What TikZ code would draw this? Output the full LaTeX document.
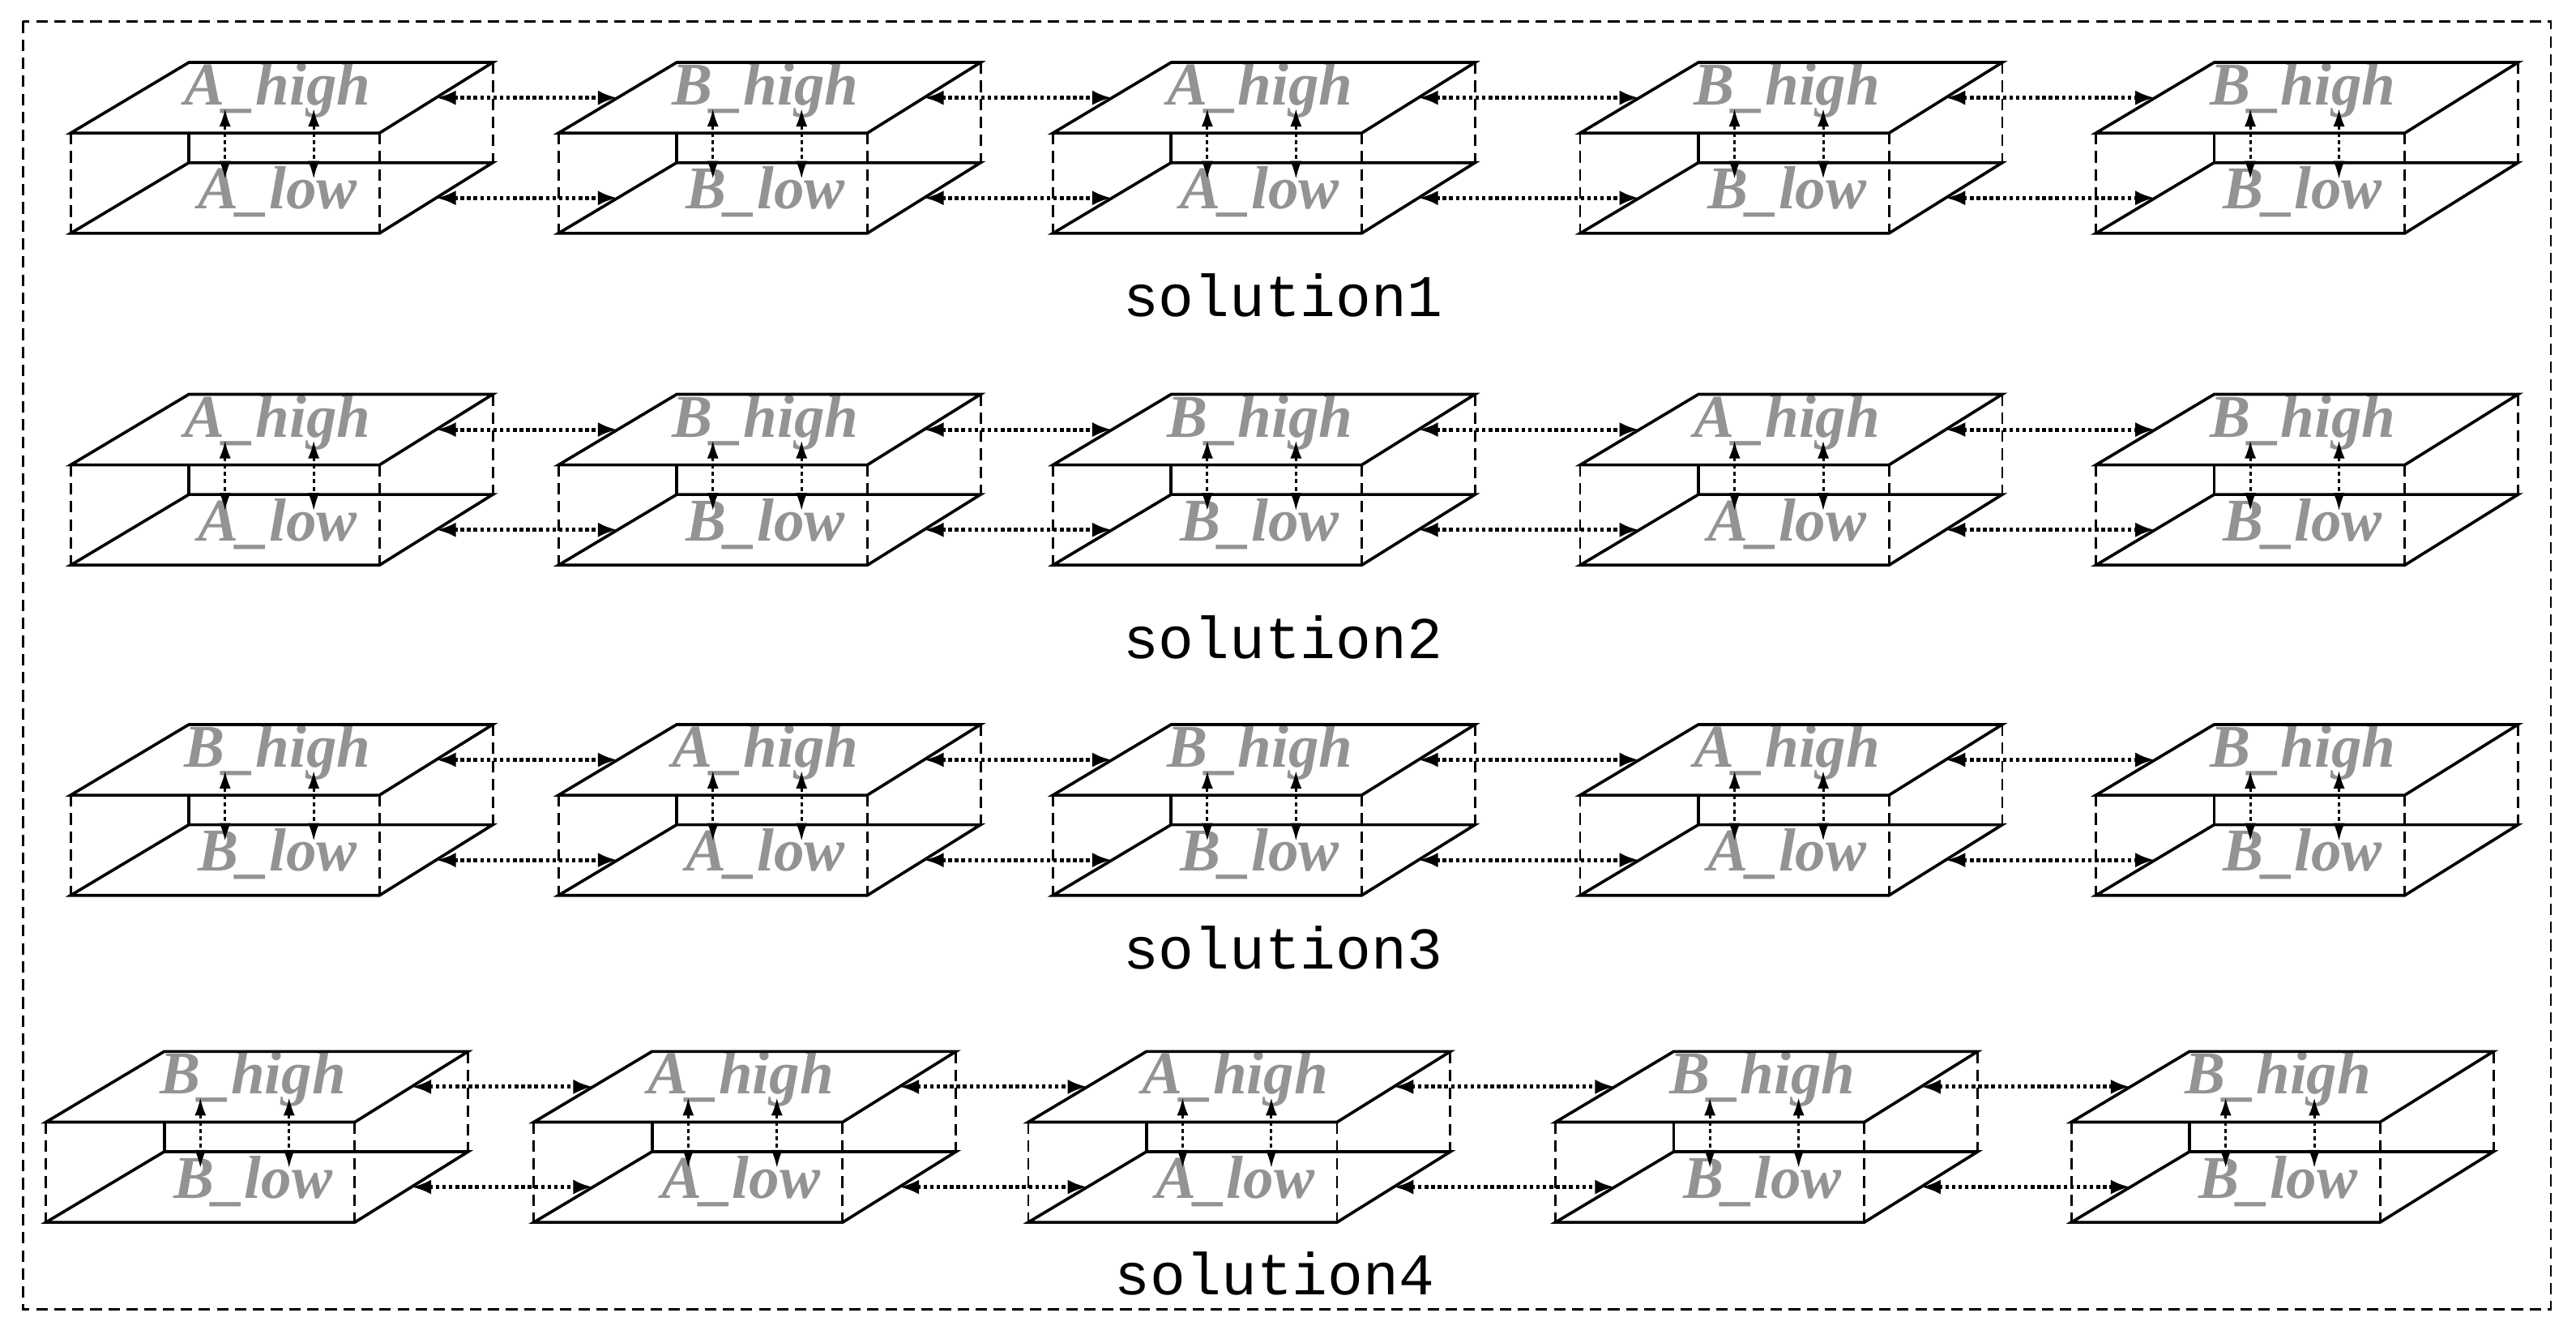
\documentclass[tikz,border=0pt]{standalone}
\usepackage{fontspec}
\setmainfont{Liberation Serif}
\newfontfamily\solfont{Liberation Mono}
\usetikzlibrary{arrows.meta}
\tikzset{
 edge/.style={line width=1.8pt},
 dashv/.style={line width=1.4pt,dash pattern=on 7pt off 4pt},
 varrow/.style={line width=1.5pt,dash pattern=on 2.5pt off 2pt,{Latex[length=11pt,width=7pt]}-{Latex[length=11pt,width=7pt]}},
 harrow/.style={line width=2.4pt,dash pattern=on 2.2pt off 1.8pt,{Latex[length=12pt,width=9pt]}-{Latex[length=12pt,width=9pt]}},
 lbl/.style={text=gray!85!white,font=\fontsize{37}{37}\selectfont\bfseries\itshape},
 sol/.style={font=\solfont\fontsize{36}{36}\selectfont}
}
\begin{document}
\begin{tikzpicture}[x=1pt,y=-1pt]
\useasboundingbox (0,0) rectangle (1568.3,809.5);
\draw[dashv] (14,13) rectangle (1553,797);
\foreach \r/\Y/\xs/\L in {1/142/0/{A,B,A,B,B},2/344/0/{A,B,B,A,B},3/545/0/{B,A,B,A,B},4/744/-15/{B,A,A,B,B}}{
 \foreach \T [count=\c] in \L {
  \pgfmathsetmacro{\X}{{43,340,641,962,1276}[\c-1]+\xs}
  \begin{scope}[shift={(\X,\Y)}]
   \node[lbl] (h\r\c) at (126,-87) {\T\_high};
   \node[lbl] (l\r\c) at (126,-25) {\T\_low};
   \draw[edge] (0,0) -- (188,0) -- (257,-43) -- (72,-43) -- cycle;
   \draw[edge] (0,-61) -- (188,-61) -- (257,-104) -- (72,-104) -- cycle;
   \draw[dashv] (0,-61) -- (0,0);
   \draw[dashv] (188,-61) -- (188,0);
   \draw[dashv] (257,-104) -- (257,-43);
   \draw[edge] (72,-61) -- (72,-43);
   \coordinate (ur\r\c) at (222.5,-82.5);
   \coordinate (ul\r\c) at (36,-82.5);
   \coordinate (lr\r\c) at (222.5,-21.5);
   \coordinate (ll\r\c) at (36,-21.5);
   \coordinate (ta\r\c) at (94,-76);
   \coordinate (ba\r\c) at (94,-33);
   \coordinate (tb\r\c) at (148,-76);
   \coordinate (bb\r\c) at (148,-33);
  \end{scope}
  \draw[varrow] (ta\r\c) -- (ba\r\c);
  \draw[varrow] (tb\r\c) -- (bb\r\c);
 }
 \foreach \a/\b in {1/2,2/3,3/4,4/5}{
  \draw[harrow] (ur\r\a) -- (ul\r\b);
  \draw[harrow] (lr\r\a) -- (ll\r\b);
 }
}
\node[sol] (s1) at (781,180) {solution1};
\node[sol] (s2) at (781,388) {solution2};
\node[sol] (s3) at (781,577) {solution3};
\node[sol] (s4) at (776,775) {solution4};
\end{tikzpicture}
\end{document}
